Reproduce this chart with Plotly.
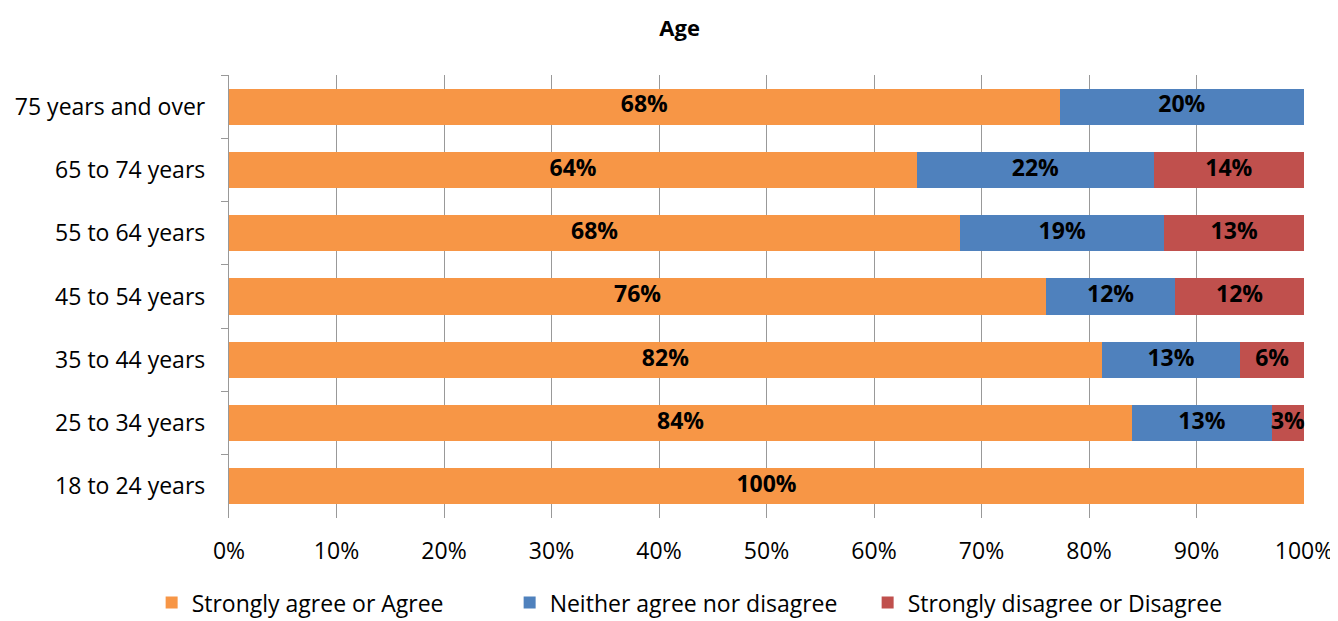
import plotly.graph_objects as go

categories = ["75 years and over", "65 to 74 years", "55 to 64 years", "45 to 54 years",
              "35 to 44 years", "25 to 34 years", "18 to 24 years"]
agree = [68, 64, 68, 76, 82, 84, 100]
neither = [20, 22, 19, 12, 13, 13, 0]
disagree = [0, 14, 13, 12, 6, 3, 0]
series_names = ["Strongly agree or Agree", "Neither agree nor disagree", "Strongly disagree or Disagree"]
colors = ["#F79646", "#4F81BD", "#C0504D"]
x_ticks = [0, 10, 20, 30, 40, 50, 60, 70, 80, 90, 100]

FONT = "Open Sans"
FS = 23

fig = go.Figure()
all_series = [agree, neither, disagree]
totals = [sum(s[i] for s in all_series) for i in range(len(categories))]

# stacked bars, normalised to 100% like the original
for name, vals, col in zip(series_names, all_series, colors):
    fig.add_trace(go.Bar(
        y=categories, x=vals, name=name, orientation="h",
        marker=dict(color=col, line=dict(width=0)),
        textposition="none", hoverinfo="skip",
    ))

# data labels centred on each segment (computed from the data)
lab_x, lab_y, lab_t = [], [], []
for i, cat in enumerate(categories):
    left = 0.0
    for vals in all_series:
        w = vals[i] / totals[i] * 100
        if vals[i]:
            lab_x.append(left + w / 2)
            lab_y.append(cat)
            lab_t.append(f"{vals[i]}%")
        left += w
fig.add_trace(go.Scatter(x=lab_x, y=lab_y, text=lab_t, mode="text", showlegend=False,
                         textfont=dict(family=FONT, size=23, color="black", weight="bold"),
                         cliponaxis=False, hoverinfo="skip"))

fig.update_layout(
    barmode="stack", barnorm="percent", bargap=0.43,
    width=1330, height=613,
    margin=dict(l=221, r=34, t=67, b=103, autoexpand=False),
    paper_bgcolor="white", plot_bgcolor="white",
    font=dict(family=FONT, size=FS, color="black"),
    title=dict(text="<b>Age</b>", x=0.505, xanchor="center", y=0.967, yanchor="middle",
               font=dict(family=FONT, size=22, color="black")),
    legend=dict(orientation="h", xref="container", x=0.108, xanchor="left",
                yref="container", y=0.03, yanchor="middle",
                font=dict(family=FONT, size=FS), traceorder="normal", itemwidth=30,
                entrywidth=313, bgcolor="rgba(0,0,0,0)"),
    showlegend=True,
)
fig.update_xaxes(range=[0, 100], tickvals=x_ticks, ticktext=[f"{t}%" for t in x_ticks],
                 showgrid=True, gridcolor="#999999", gridwidth=1.3, zeroline=False,
                 showline=False, ticks="", tickfont=dict(family=FONT, size=FS), ticklabelstandoff=17)
fig.update_yaxes(autorange="reversed", showgrid=False, showline=True, linecolor="#999999", linewidth=1.3,
                 ticks="outside", tickson="boundaries", ticklen=7, tickcolor="#999999", tickwidth=1.3,
                 tickfont=dict(family=FONT, size=FS), ticklabelstandoff=18)

fig.write_html("out.html")
